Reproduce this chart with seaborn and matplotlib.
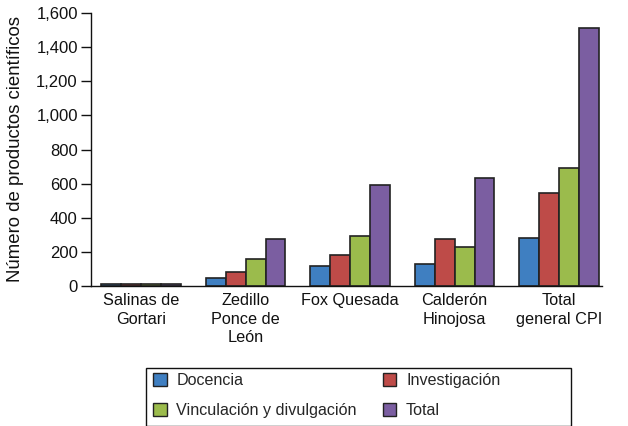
import matplotlib
matplotlib.use("Agg")
import matplotlib.pyplot as plt
import seaborn as sns
import pandas as pd
from matplotlib.ticker import FuncFormatter
from matplotlib.patches import Patch, Rectangle

categories = ["Salinas de\nGortari", "Zedillo\nPonce de\nLeón", "Fox Quesada",
              "Calderón\nHinojosa", "Total\ngeneral CPI"]
series = ["Docencia", "Investigación", "Vinculación y divulgación", "Total"]
docencia = [12, 47, 119, 127, 283]
investigacion = [12, 84, 182, 277, 545]
vinculacion = [12, 156, 291, 230, 692]
total = [12, 274, 590, 635, 1510]
colors = ["#3F7FC1", "#BE4B48", "#9BBB4C", "#7B5EA1"]
yticks = [0, 200, 400, 600, 800, 1000, 1200, 1400, 1600]

rows = []
for name, vals in zip(series, [docencia, investigacion, vinculacion, total]):
    for c, v in zip(categories, vals):
        rows.append({"cat": c, "serie": name, "valor": v})
df = pd.DataFrame(rows)

sns.set_theme(style="white")
plt.rcParams["font.family"] = ["Liberation Sans", "DejaVu Sans"]

W, H = 628, 426
fig = plt.figure(figsize=(W/100, H/100), dpi=100)
ax = fig.add_axes([91/W, 1-286/H, (602-91)/W, (286-13)/H])

sns.barplot(data=df, x="cat", y="valor", hue="serie", order=categories,
            hue_order=series, palette=colors, saturation=1, width=0.76,
            edgecolor="#222222", linewidth=1.2, ax=ax, legend=False)

ax.set_xlim(-0.48, 4.41)
ax.set_ylim(0, 1600)
ax.set_yticks(yticks)
ax.yaxis.set_major_formatter(FuncFormatter(lambda v, p: f"{int(v):,}"))
ax.set_xlabel("")
ax.set_ylabel("Número de productos científicos", fontsize=13.4, color="#111111")
ax.yaxis.label.set_va("center")
ax.yaxis.set_label_coords(-(91-16)/(602-91), 0.5)
for s in ["top", "right"]:
    ax.spines[s].set_visible(False)
for s in ["left", "bottom"]:
    ax.spines[s].set_color("#111111")
    ax.spines[s].set_linewidth(1.0)
ax.tick_params(axis="y", left=True, length=7.5, width=1, color="#111111", pad=2,
               labelsize=12, labelcolor="#111111")
ax.tick_params(axis="x", bottom=False, length=0, pad=5, labelsize=11.7, labelcolor="#111111")
for lab in ax.get_xticklabels():
    lab.set_linespacing(1.3)

# legend box
fig.patches.append(Rectangle((146/W, 0), (571-146)/W, 1-368/H, transform=fig.transFigure,
                             facecolor="white", edgecolor="#111111", linewidth=1.0,
                             clip_on=False, zorder=1))
handles = [Patch(facecolor=colors[i], edgecolor="#222222", linewidth=1.0) for i in [0, 2, 1, 3]]
labels = [series[i] for i in [0, 2, 1, 3]]
leg = fig.legend(handles, labels, ncol=2, loc="upper left",
                 bbox_to_anchor=(153/W, 1-373/H), bbox_transform=fig.transFigure,
                 frameon=False, fontsize=11.6, handlelength=0.85,
                 handleheight=0.85, handletextpad=0.6, columnspacing=1.6,
                 labelspacing=0.95, borderpad=0, borderaxespad=0)
leg.set_zorder(2)

fig.savefig("out.png", dpi=100)
